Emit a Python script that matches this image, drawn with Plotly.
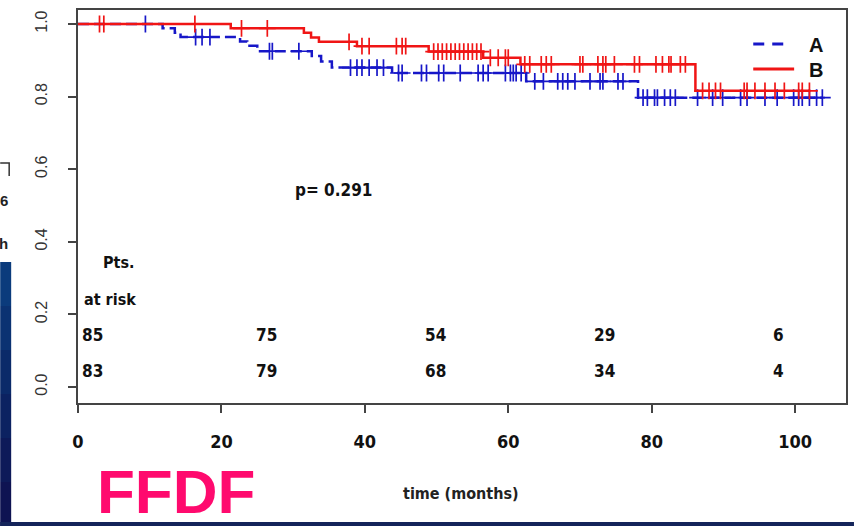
import numpy as np
import plotly.graph_objects as go

# ---------------- data ----------------
# Group A (blue, dashed): event times and survival after each event
a_event_t = [11.8, 13.5, 14.3, 22.6, 23.6, 25.0, 32.6, 33.9, 35.4, 43.8, 62.5, 78.1]
a_surv    = [0.988, 0.976, 0.964, 0.952, 0.940, 0.925, 0.912, 0.897, 0.880, 0.865, 0.842, 0.797]
a_end_t   = 103.8
a_censor  = [9.4, 16.4, 17.3, 18.4, 26.7, 27.1, 30.8, 38.0, 38.9, 39.6, 40.6, 41.7, 42.6,
             44.7, 45.2, 47.9, 48.6, 50.3, 51.0, 53.3, 55.8, 56.5, 57.2, 59.6, 60.3, 60.7,
             61.1, 61.8, 63.7, 64.9, 66.9, 67.6, 68.3, 69.3, 71.4, 72.8, 73.2, 75.3, 76.0,
             78.8, 79.4, 80.4, 80.8, 81.8, 82.6, 83.3, 86.4, 88.5, 89.9, 92.4, 93.3, 95.8,
             97.5, 99.8, 100.5, 101.0, 102.0, 103.0, 103.8]

# Group B (red, solid)
b_event_t = [21.3, 31.5, 32.5, 33.6, 38.9, 48.9, 56.5, 61.7, 86.1]
b_surv    = [0.988, 0.976, 0.963, 0.951, 0.939, 0.924, 0.907, 0.889, 0.816]
b_end_t   = 102.0
b_censor  = [3.0, 3.6, 16.3, 22.8, 26.4, 37.8, 39.6, 40.6, 44.4, 45.2, 45.7, 49.6, 50.2,
             50.8, 51.4, 52.0, 52.6, 53.2, 53.8, 54.4, 55.0, 55.6, 56.2, 57.5, 58.6, 59.6,
             60.0, 62.3, 63.0, 64.6, 65.3, 66.0, 70.0, 70.4, 72.5, 73.2, 73.6, 74.8, 77.6,
             78.3, 80.6, 81.5, 82.4, 82.7, 84.0, 84.7, 87.1, 88.0, 88.9, 89.6, 92.9, 93.3,
             94.4, 95.8, 97.2, 98.5, 100.5, 101.0, 102.0]

group_names = ["A", "B"]
at_risk_t = [0.3, 24.6, 48.1, 71.7, 96.7]
at_risk_A = ["85", "75", "54", "29", "6"]
at_risk_B = ["83", "79", "68", "34", "4"]
p_text = "p= 0.291"

x_ticks = [0, 20, 40, 60, 80, 100]
y_ticks = [0.0, 0.2, 0.4, 0.6, 0.8, 1.0]
y_tick_labels = ["0.0", "0.2", "0.4", "0.6", "0.8", "1.0"]

BLUE = "#1717C8"
RED = "#F01515"
NARROW = "DejaVu Sans Condensed, Liberation Sans Narrow, Arial Narrow, Liberation Sans, Arial"


def step_curve(times, surv, end_t):
    xs = [0.0] + list(times) + [end_t]
    ys = [1.0] + list(surv) + [surv[-1]]
    return xs, ys


def surv_at(times, surv, t):
    idx = np.searchsorted(np.array(times), t, side="right")
    return 1.0 if idx == 0 else surv[idx - 1]


fig = go.Figure()

for times, surv, end_t, cens, color, dash in [
    (a_event_t, a_surv, a_end_t, a_censor, BLUE, "11px,5px"),
    (b_event_t, b_surv, b_end_t, b_censor, RED, "solid"),
]:
    xs, ys = step_curve(times, surv, end_t)
    fig.add_trace(go.Scatter(x=xs, y=ys, mode="lines", line_shape="hv",
                             line=dict(color=color, width=2.5, dash=dash),
                             showlegend=False, hoverinfo="skip"))
    cy = [surv_at(times, surv, t) for t in cens]
    fig.add_trace(go.Scatter(x=cens, y=cy, mode="markers",
                             marker=dict(symbol="cross-thin", size=12,
                                         line=dict(color=color, width=1.7)),
                             showlegend=False, hoverinfo="skip"))


def px(xp):
    return (xp - 78) / 770


def py(yp):
    return (403 - yp) / 393


anns = []
# at-risk table
for row, yv in [(at_risk_A, 0.143), (at_risk_B, 0.044)]:
    for t, s in zip(at_risk_t, row):
        anns.append(dict(x=t, y=yv, xref="x", yref="y", text="<b>" + s + "</b>",
                         showarrow=False, xanchor="left", yanchor="middle",
                         font=dict(family=NARROW, size=17, color="#111")))
anns.append(dict(x=3.2, y=0.344, xref="x", yref="y", text="<b>Pts.</b>", showarrow=False,
                 xanchor="left", yanchor="middle", font=dict(family=NARROW, size=16, color="#111")))
anns.append(dict(x=0.5, y=0.24, xref="x", yref="y", text="<b>at risk</b>", showarrow=False,
                 xanchor="left", yanchor="middle", font=dict(family=NARROW, size=16, color="#111")))
anns.append(dict(x=35.6, y=0.543, xref="x", yref="y", text="<b>" + p_text + "</b>", showarrow=False,
                 xanchor="center", yanchor="middle", font=dict(family=NARROW, size=17, color="#111")))
# legend text
anns.append(dict(x=px(809), y=py(45), xref="paper", yref="paper", text="<b>A</b>",
                 showarrow=False, xanchor="left", yanchor="middle",
                 font=dict(family="Liberation Sans, Arial", size=20, color="#111")))
anns.append(dict(x=px(809), y=py(70), xref="paper", yref="paper", text="<b>B</b>",
                 showarrow=False, xanchor="left", yanchor="middle",
                 font=dict(family="Liberation Sans, Arial", size=20, color="#111")))
# x title
anns.append(dict(x=px(462), y=py(494), xref="paper", yref="paper",
                 text="<b>time (months)</b>", showarrow=False, xanchor="center", yanchor="middle",
                 font=dict(family=NARROW, size=16, color="#222")))
# FFDF
anns.append(dict(x=px(176), y=py(491), xref="paper", yref="paper",
                 text="<b>FFDF</b>", showarrow=False, xanchor="center", yanchor="middle",
                 font=dict(family="Liberation Sans, Arial", size=62, color="#FF0A6E")))
# slide fragments at left edge
for txt, yy in [("6", 200), ("h", 243)]:
    anns.append(dict(x=px(10), y=py(yy), xref="paper", yref="paper",
                     text="<b>" + txt + "</b>", showarrow=False, xanchor="right", yanchor="middle",
                     font=dict(family="Liberation Sans, Arial", size=15, color="#222")))

shapes = []
# legend samples
shapes.append(dict(type="line", xref="paper", yref="paper", x0=px(755), x1=px(793), y0=py(44), y1=py(44),
                   line=dict(color=BLUE, width=3, dash="11px,8px")))
shapes.append(dict(type="line", xref="paper", yref="paper", x0=px(755), x1=px(796), y0=py(69), y1=py(69),
                   line=dict(color=RED, width=3)))
# blue slide strips (gradient approximated by bands)
cols = ["#0b3b7c", "#0b3272", "#0b2a69", "#0c2261", "#0d1a59", "#0e1352"]
top, bot = 262, 526
n = len(cols)
for i, c in enumerate(cols):
    y0 = top + (bot - top) * i / n
    y1 = top + (bot - top) * (i + 1) / n
    shapes.append(dict(type="rect", xref="paper", yref="paper", x0=px(0), x1=px(11),
                       y0=py(y1), y1=py(y0), fillcolor=c, line=dict(width=0), layer="above"))
shapes.append(dict(type="rect", xref="paper", yref="paper", x0=px(0), x1=px(856),
                   y0=py(526), y1=py(522), fillcolor="#14245a", line=dict(width=0), layer="above"))
# bracket fragment
shapes.append(dict(type="path", xref="paper", yref="paper",
                   path=f"M {px(0)},{py(163)} L {px(9)},{py(163)} L {px(9)},{py(176)}",
                   line=dict(color="#333", width=1.5)))

fig.update_layout(
    width=856, height=526,
    margin=dict(l=78, r=8, t=10, b=123),
    paper_bgcolor="white", plot_bgcolor="white",
    annotations=anns, shapes=shapes,
    xaxis=dict(range=[0, 107.1], tickvals=x_ticks,
               ticktext=["<b>%d</b>" % v for v in x_ticks],
               showgrid=False, zeroline=False, showline=True, mirror=True,
               linecolor="#444", linewidth=2, ticks="outside", ticklen=8, tickcolor="#444",
               tickwidth=1.5, ticklabelstandoff=13,
               tickfont=dict(family=NARROW, size=18, color="#111")),
    yaxis=dict(range=[-0.0441, 1.0386], tickvals=y_ticks, ticktext=y_tick_labels,
               showgrid=False, zeroline=False, showline=True, mirror=True,
               linecolor="#444", linewidth=2, ticks="outside", ticklen=8, tickcolor="#444",
               tickwidth=1.5, tickangle=-90, ticklabelstandoff=15,
               tickfont=dict(family="Liberation Sans, Arial", size=16, color="#333")),
)

fig.write_html("out.html", config={"displayModeBar": False},
               post_script="document.body.style.margin='0px';document.body.style.overflow='hidden';")
